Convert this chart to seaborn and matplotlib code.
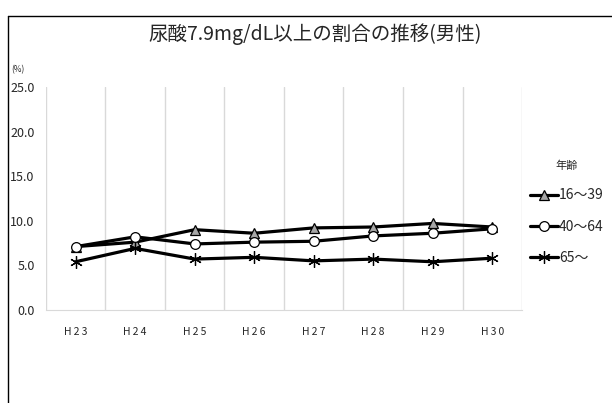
import pandas as pd
import numpy as np
import seaborn as sns
import matplotlib.pyplot as plt
from matplotlib.lines import Line2D

years = ["H23", "H24", "H25", "H26", "H27", "H28", "H29", "H30"]
age_16_39 = [7.1, 7.6, 9.0, 8.6, 9.2, 9.3, 9.7, 9.3]
age_40_64 = [7.1, 8.2, 7.4, 7.6, 7.7, 8.3, 8.6, 9.1]
age_65 = [5.4, 6.9, 5.7, 5.9, 5.5, 5.7, 5.4, 5.8]
groups = ["16～39", "40～64", "65～"]

df = pd.DataFrame({"年度": years * 3,
                   "割合": age_16_39 + age_40_64 + age_65,
                   "年齢": np.repeat(groups, len(years))})

sns.set_style("white")
plt.rcParams['font.family'] = ['Noto Sans CJK JP', 'DejaVu Sans']

fig = plt.figure(figsize=(6.12, 4.03), dpi=100)
ax = fig.add_axes([0.075, 0.231, 0.778, 0.553])

# marker style per group
styles = {
    "16～39": dict(marker="^", markersize=7, markerfacecolor="#a6a6a6"),
    "40～64": dict(marker="o", markersize=7, markerfacecolor="white"),
    "65～": dict(marker=(6, 2, 0), markersize=9, markerfacecolor="black"),
}
for g in groups:
    sns.lineplot(data=df[df["年齢"] == g], x="年度", y="割合", ax=ax,
                 color="black", linewidth=2.3, markeredgecolor="black",
                 markeredgewidth=0.9, sort=False, **styles[g])

ax.set_xlim(-0.5, 7.5)
ax.set_ylim(0, 25)
ax.set_yticks(np.arange(0, 26, 5))
ax.set_yticklabels([f"{v:.1f}" for v in np.arange(0, 26, 5)], fontsize=9)
ax.set_xticks(range(len(years)))
ax.set_xticklabels(["\u2009".join(y) for y in years], fontsize=7.5)
ax.set_xticks(np.arange(-0.5, 8, 1), minor=True)
ax.grid(False)
ax.grid(True, which="minor", axis="x", color="#d9d9d9", linewidth=1)
ax.tick_params(axis="both", which="both", length=0)
ax.tick_params(axis="y", pad=8)
ax.tick_params(axis="x", pad=12)
for s in ["top", "right", "left"]:
    ax.spines[s].set_visible(False)
ax.spines["bottom"].set_color("#d9d9d9")
ax.set_xlabel("")
ax.set_ylabel("")

fig.text(0.515, 0.916, "尿酸7.9mg/dL以上の割合の推移(男性)", ha="center",
         va="center", fontsize=14)
fig.text(0.018, 0.826, "(%)", fontsize=6, va="center")

handles = [Line2D([], [], color="black", linewidth=2.3, markeredgecolor="black",
                  markeredgewidth=0.9, **styles[g]) for g in groups]
leg = fig.legend(handles, groups, title="年齢", loc="upper left",
                 bbox_to_anchor=(0.857, 0.615), frameon=False, fontsize=10,
                 title_fontsize=8, handlelength=2.0, handletextpad=0.1,
                 labelspacing=1.25, borderaxespad=0)

# outer chart frame (left and top edges visible in the crop)
fig.add_artist(Line2D([0.013, 0.013], [0, 0.96], color="black", linewidth=1))
fig.add_artist(Line2D([0.013, 1], [0.96, 0.96], color="black", linewidth=1))

fig.savefig("out.png", dpi=100)
